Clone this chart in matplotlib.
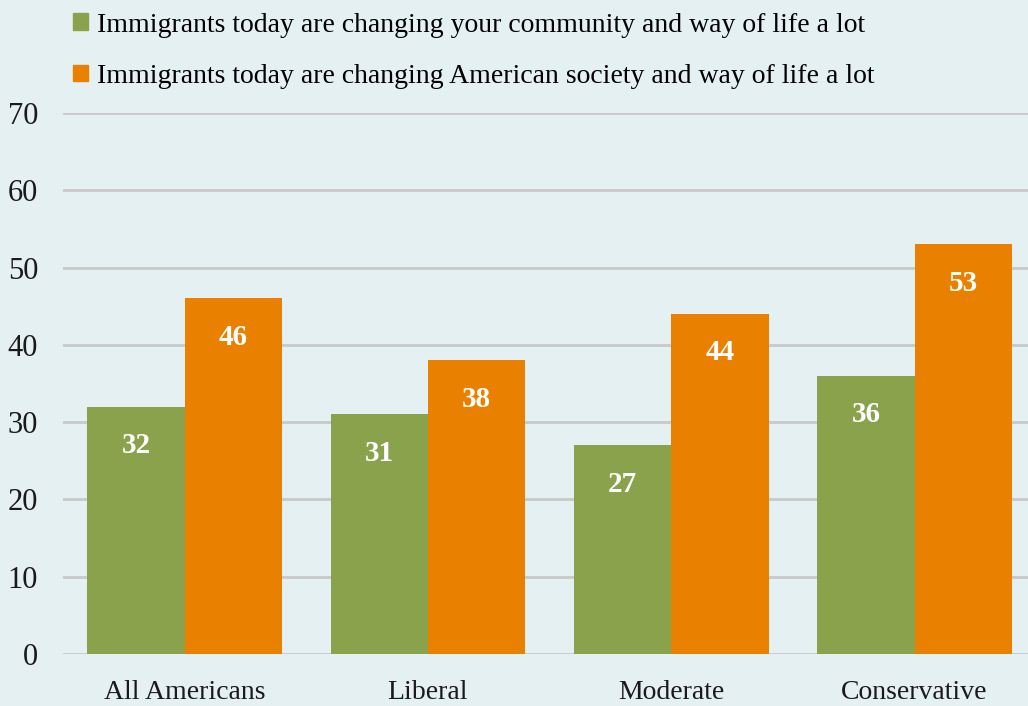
import matplotlib
matplotlib.use('Agg')
import matplotlib.pyplot as plt
import numpy as np
from matplotlib.patches import Patch

# data
categories = ['All Americans', 'Liberal', 'Moderate', 'Conservative']
community = [32, 31, 27, 36]
society = [46, 38, 44, 53]
seriesNames = ['Immigrants today are changing your community and way of life a lot',
               'Immigrants today are changing American society and way of life a lot']
yTicks = [0, 10, 20, 30, 40, 50, 60, 70]

bg = '#E5F0F3'
green = '#8AA24C'
orange = '#EA8000'

plt.rcParams['font.family'] = ['Liberation Serif', 'DejaVu Serif']

fig = plt.figure(figsize=(10.28, 7.06), dpi=100, facecolor=bg)
# plot area runs a little past the right edge of the picture, like the original
ax = fig.add_axes([63/1028, 1 - 654/706, 4*243.3/1028, (654 - 113)/706])
ax.set_facecolor(bg)

x = np.arange(len(categories))
w = 0.4
b1 = ax.bar(x - w/2, community, w, color=green, zorder=3)
b2 = ax.bar(x + w/2, society, w, color=orange, zorder=3)

for bars in (b1, b2):
    for bar in bars:
        h = bar.get_height()
        ax.annotate(str(int(h)), (bar.get_x() + bar.get_width()/2, h),
                    xytext=(0, -28), textcoords='offset points',
                    ha='center', va='center', color='white',
                    fontsize=21, fontweight='bold', zorder=4)

ax.set_xlim(-0.5, len(categories) - 0.5)
ax.set_ylim(0, 70)
ax.set_yticks(yTicks)
ax.set_xticks(x)
ax.set_xticklabels(categories)
ax.yaxis.grid(True, color='#C8C8C8', linewidth=2, zorder=0)
ax.set_axisbelow(True)
for s in ax.spines.values():
    s.set_visible(False)
ax.tick_params(axis='both', length=0, labelsize=20, colors='#1a1a1a')
ax.tick_params(axis='y', pad=18, labelsize=22)
ax.tick_params(axis='x', pad=19)
for lbl in ax.get_yticklabels():
    lbl.set_horizontalalignment('right')

handles = [Patch(color=green), Patch(color=orange)]
fig.legend(handles, seriesNames, loc='upper left', bbox_to_anchor=(62/1028, 0.998),
           frameon=False, fontsize=20, handlelength=0.55, handleheight=0.55,
           handletextpad=0.3, labelspacing=0.95, borderaxespad=0)

fig.savefig('out.png', dpi=100, facecolor=bg)
